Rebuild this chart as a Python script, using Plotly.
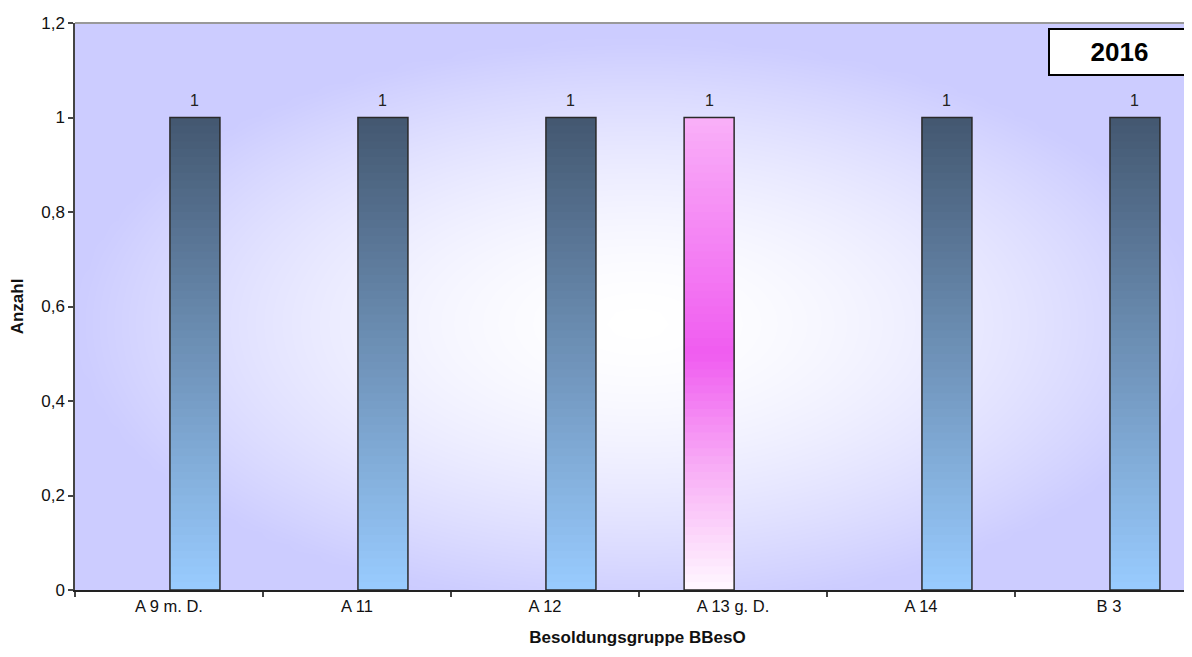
import numpy as np
import plotly.graph_objects as go

# ---- data ----
categories = ["A 9 m. D.", "A 11", "A 12", "A 13 g. D.", "A 14", "B 3"]
series_blue = [1, 1, 1, None, 1, 1]
series_pink = [None, None, None, 1, None, None]
year_label = "2016"
x_title = "Besoldungsgruppe BBesO"
y_title = "Anzahl"

FONT = "Liberation Sans, Arial, sans-serif"

def hex2rgb(h):
    h = h.lstrip("#")
    return tuple(int(h[i:i + 2], 16) for i in (0, 2, 4))

def grad(stops, t):
    for (t0, c0), (t1, c1) in zip(stops[:-1], stops[1:]):
        if t0 <= t <= t1:
            f = (t - t0) / (t1 - t0) if t1 > t0 else 0
            a, b = hex2rgb(c0), hex2rgb(c1)
            return "rgb(%d,%d,%d)" % tuple(round(a[i] + (b[i] - a[i]) * f) for i in range(3))
    return stops[-1][1]

blue_stops = [(0.0, "#99CCFF"), (1.0, "#435770")]
pink_stops = [(0.0, "#FFF8FF"), (0.25, "#F8B0F6"), (0.5, "#F05CF0"), (1.0, "#F9B0F8")]

N = 60
BAR_W = 0.266
BLUE_OFF = 0.005
PINK_OFF = -0.26
XR = [-0.5, 5.484]
PLOT_W = 1192 - 67
UNIT_PX = PLOT_W / (XR[1] - XR[0])

def gradient_trace(values, stops, offset):
    xs, bases, ys, cols = [], [], [], []
    for c, v in zip(categories, values):
        if v is None:
            continue
        step = v / N
        for i in range(N):
            xs.append(c)
            bases.append(step * i)
            ys.append(step * (2.0 if i < N - 1 else 1.0))
            cols.append(grad(stops, (i + 0.5) / N))
    return go.Bar(x=xs, y=ys, base=bases, width=BAR_W, offset=offset,
                  marker=dict(color=cols, line=dict(width=0)),
                  hoverinfo="skip", xaxis="x2", yaxis="y2", showlegend=False)

def outline_trace(values, offset):
    return go.Bar(x=categories, y=values, width=BAR_W, offset=offset,
                  marker=dict(color="rgba(0,0,0,0)", line=dict(color="#2a2a2a", width=1.5)),
                  hoverinfo="skip", xaxis="x2", yaxis="y2", showlegend=False)

def value_labels(values, offset):
    shift = (offset + BAR_W / 2) * UNIT_PX
    return [dict(x=c, y=v, xref="x2", yref="y2", text=str(v), showarrow=False,
                 xshift=shift, yshift=17, yanchor="middle",
                 font=dict(family=FONT, size=16, color="#222222"))
            for c, v in zip(categories, values) if v is not None]

# decorative background (radial light gradient)
gx = np.linspace(0, 1, 80)
gy = np.linspace(0, 1, 50)
GX, GY = np.meshgrid(gx, gy)
r = np.sqrt(((GX - 0.5) / 0.5) ** 2 + ((GY - 0.47) / 0.5) ** 2)
bg = np.clip(r, 0, 1) ** 1.6

fig = go.Figure()
fig.add_trace(go.Heatmap(x=gx, y=gy, z=bg, zmin=0, zmax=1, zsmooth="best",
                         colorscale=[[0, "#FFFFFF"], [1, "#CCCCFF"]],
                         showscale=False, hoverinfo="skip", xaxis="x", yaxis="y"))

fig.add_trace(gradient_trace(series_blue, blue_stops, BLUE_OFF))
fig.add_trace(gradient_trace(series_pink, pink_stops, PINK_OFF))
fig.add_trace(outline_trace(series_blue, BLUE_OFF))
fig.add_trace(outline_trace(series_pink, PINK_OFF))

annotations = value_labels(series_blue, BLUE_OFF) + value_labels(series_pink, PINK_OFF)
annotations.append(dict(text="<b>" + year_label + "</b>", xref="paper", yref="paper",
                        x=0.992, y=0.991, xanchor="right", yanchor="top",
                        showarrow=False, width=139, height=44, borderpad=0,
                        bgcolor="white", bordercolor="#000000", borderwidth=2,
                        font=dict(family=FONT, size=26, color="#000000")))

fig.update_layout(
    width=1192, height=657,
    margin=dict(l=67, r=0, t=15, b=75, autoexpand=False),
    paper_bgcolor="white", plot_bgcolor="#CCCCFF",
    barmode="overlay",
    separators=",.",
    showlegend=False,
    font=dict(family=FONT, size=17, color="#111111"),
    xaxis=dict(range=[0, 1], visible=False, fixedrange=True, automargin=False),
    yaxis=dict(range=[0, 1], visible=False, fixedrange=True, automargin=False),
    xaxis2=dict(overlaying="x", anchor="y2", side="bottom", type="category",
                categoryorder="array", categoryarray=categories, automargin=False,
                range=XR, showgrid=False, zeroline=False,
                showline=True, linecolor="#222222", linewidth=1.5,
                ticks="outside", tickson="boundaries", ticklen=5,
                tickcolor="#444444", tickwidth=1.5,
                tickfont=dict(family=FONT, size=16.5, color="#111111"),
                title=dict(text="<b>" + x_title + "</b>", standoff=18,
                           font=dict(family=FONT, size=17, color="#111111"))),
    yaxis2=dict(overlaying="y", anchor="x2", side="left", automargin=False,
                range=[0, 1.2], dtick=0.2, tick0=0, showgrid=False, zeroline=False,
                showline=True, linecolor="#444444", linewidth=1.5,
                ticks="outside", ticklen=5, tickcolor="#444444", tickwidth=1.5,
                tickfont=dict(family=FONT, size=17, color="#111111"),
                title=dict(text="<b>" + y_title + "</b>", standoff=14,
                           font=dict(family=FONT, size=17, color="#111111"))),
    shapes=[dict(type="line", xref="paper", yref="paper", x0=0, x1=1, y0=1, y1=1,
                 line=dict(color="#999999", width=2))],
    annotations=annotations,
)

fig.write_html("out.html")
